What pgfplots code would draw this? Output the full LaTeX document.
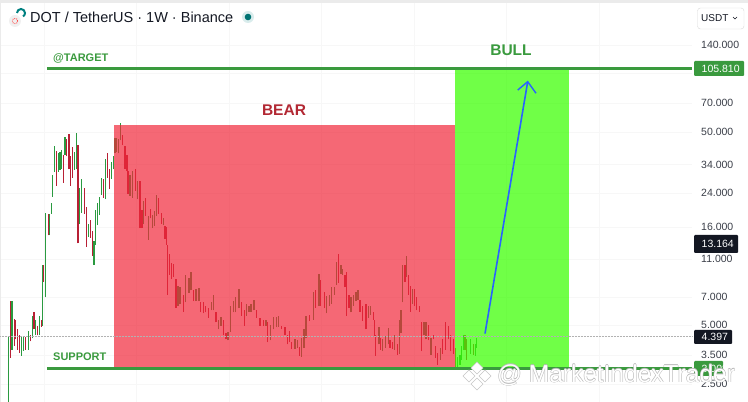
\documentclass[border=0pt]{standalone}
\usepackage{pgfplots}
\pgfplotsset{compat=1.18}
\usepackage{pgfplotstable}
\usepackage{fontspec}
\setmainfont{Liberation Sans}
\definecolor{tvgreen}{HTML}{3A9A3E}
\definecolor{candleG}{HTML}{2A9A40}
\definecolor{candleR}{HTML}{B82035}
\definecolor{bearfill}{HTML}{F1283A}
\definecolor{bullfill}{HTML}{39FF00}
\definecolor{beartxt}{HTML}{B22833}
\definecolor{tick}{HTML}{3A3E48}
\definecolor{dark}{HTML}{131722}
\definecolor{tvblue}{HTML}{2962FF}
\pgfplotstableread{
x lo hi
8.3 2.03 4.41
12 3.76 6.67
21.3 3.49 4.35
23.3 3.71 4.35
28.3 3.76 4.72
32.3 4.30 5.64
35.7 4.50 5.36
39.3 4.50 5.64
42.3 5.0 10.3
45.3 7.0 19.0
49.7 14.6 18.9
51.3 18.9 21.5
52.7 23.1 30.0
54.3 31.1 42.1
58.3 31.1 38.7
60 31.9 39.2
61.3 32.3 40.1
65 37.8 47
74.7 31.9 39.2
76.3 32.3 49.2
79.7 16.7 25.7
81.7 19.0 28.7
88.7 14.4 16.7
94 10.3 13.6
95.7 13.1 19.7
97.7 16.5 21.5
99.3 18.6 23.1
101.3 23.7 29.0
105.3 22.5 36
111.3 28.7 34.8
113.3 32 37.3
115 38.7 46.3
116.7 39.2 46.3
118.7 38.7 45.8
120.3 45.2 55.5
130 23.4 30
132.3 22.9 31.5
137.7 22.5 28
143.7 16.7 22
148.7 13.9 18.4
152.7 15.9 18.6
154.7 16.3 19.5
156.7 18.4 23.7
163.7 16.5 17.9
178 6.35 8.0
180 6.45 7.9
185.7 6.6 9.1
189 7.4 8.8
191 7.6 9.5
196 6.7 7.7
199 6.7 7.8
211.3 6.0 6.6
213.3 6.0 7.2
218.7 4.78 5.36
221 5.0 5.56
228 4.2 4.65
230.3 4.65 6.3
233.3 5.85 6.7
235.7 5.85 7.0
239 6.15 7.7
246.7 5.64 6.5
249 5.9 6.35
251 5.9 6.45
254 6.0 6.8
266 5.0 5.36
270.7 4.2 5.05
273.3 4.78 5.56
276.7 4.9 5.56
278.3 4.95 5.64
295 3.8 4.25
297.3 3.85 4.2
301.3 3.45 4.3
304 3.85 4.78
306 4.3 5.64
313.3 5.36 7.5
319 6.3 9.25
326.7 5.78 7.1
329.3 6.35 7.2
331.7 6.45 7.9
334.3 7.2 7.9
336.7 8.1 10.7
341 9.25 10.3
342.7 9.15 9.8
351 5.85 7
353.3 6.35 7.2
356 6.7 7.5
358 6.8 7.6
368.3 5.5 6.3
370.7 5.7 6.35
379 4.0 4.95
382.7 3.7 4.25
385.7 3.85 4.4
388.3 4.0 4.85
394.7 3.76 4.45
399.3 3.58 5.36
401 4.6 6.0
402.7 6.6 10.3
406.7 8.9 11.5
412.7 6.45 7.7
424 4.45 5.25
426 4.25 5.2
431 3.55 4.3
440.7 3.33 3.85
457.7 3.07 3.45
460 3.15 3.55
461.7 3.33 3.95
463.3 3.76 4.5
470.7 3.58 4.25
475.3 3.49 4.0
476.7 3.85 4.3
}\upbars
\pgfplotstableread{
x lo hi
10.7 3.41 6.67
14.3 3.95 5.43
15.5 4.25 5.36
17.3 3.76 4.78
19.3 3.62 4.5
25.3 3.76 4.35
30.3 4.15 4.5
34 4.78 5.9
37.3 4.45 5
41.3 4.95 5.36
43.7 8.4 10.3
48.3 14.6 18.9
56.3 26.3 39.6
63.3 27.3 37.8
66.7 37.3 45.8
69 32 48.6
70.7 26.3 37.3
72.7 29 41.6
78 13.3 42.6
84.7 18.9 25.7
86.7 12.8 20.5
90.3 14.2 17.5
92.3 11.5 15.3
103.3 22.9 28.7
107.3 29 38.7
109.3 25.2 32.3
122.3 42.6 48
125 32.3 42.1
127 31.5 37.8
128 24 31.5
135.7 24.8 32.3
140 15.9 28
142 15.9 19.7
145.7 18.4 22.9
150.7 17.9 20
158.7 18.9 22.9
161.3 16.7 19
165 14 16.3
166.7 13.1 16.1
167.7 7.2 13.1
169.3 9.15 11.7
171.7 8.7 10.5
173.7 8.9 10.4
176 6.2 8.7
183.7 5.9 7.2
193.3 6.7 7.6
200.7 5.85 6.6
203.3 5.78 6.6
205.5 5.85 6.35
208.3 5.5 6.2
216 5.2 5.85
223.3 4.45 5.36
226 4.25 4.6
241.7 5.64 6.6
244.3 5 6
256.7 5.5 6.05
260 5 5.5
263.3 5 5.36
267.7 4.1 5.25
281.7 4.78 5
285 4.5 4.9
287.3 4 4.45
289.3 4.1 4.72
291.7 3.8 4.1
299.3 3.49 3.9
309.3 5.3 5.7
315.3 6.2 7.6
320.7 6.35 8.6
324.3 6.15 7.5
338.7 8.3 11.7
345 7.9 9.15
346.7 5.64 9.5
349 6.2 7.2
360 5.9 6.8
362.7 5.3 6.3
366 4.78 6.5
373.3 5.36 5.85
374.3 4.4 5.36
375.7 3.49 4.5
380.7 3.76 4.3
390 3.85 4.2
392.3 3.8 4.1
397.7 3.55 4
405 8.4 10.3
408.3 7.2 9.15
410.3 5.9 8
414.3 6.3 7.7
416.7 6 7
419.3 5.9 6.3
421.7 3.7 5.25
428.3 4.2 5.05
433.3 4.25 4.5
435.7 3.41 3.95
437.7 3.15 3.62
442.7 3.58 4.25
445.3 3.76 5.25
448.3 4.25 5
450.7 3.7 4.5
453.3 3.58 4.25
455.7 2.96 3.85
465 3.76 4.5
466.7 3.33 4.25
473.3 3.55 4
}\downbars
\newcommand{\fs}[1]{\fontsize{#1}{#1}\selectfont}
\begin{document}
\begin{tikzpicture}[x=1pt,y=1pt]
\useasboundingbox (0,0) rectangle (748,402);
\begin{axis}[at={(0,0)},anchor=south west,width=748pt,height=402pt,scale only axis,
  xmin=0,xmax=748,ymode=log,ymin=2.02,ymax=239,
  axis line style={draw=none},tick style={draw=none},
  xtick={44,136,229,321,414,506,599},xticklabels={},
  ytick={2.5,3.5,5,7,11,16,24,34,50,70,100,140},yticklabels={},
  log basis y=10,
  grid=major,grid style={draw=black!3,line width=0.5pt},
  clip=true]
\addplot[forget plot,draw=none,mark=none,
  error bars/.cd,y dir=plus,y explicit,error mark=none,
  error bar style={draw=candleG,line width=1.5pt}]
  table[x=x,y=lo,y error expr=\thisrow{hi}-\thisrow{lo}]{\upbars};
\addplot[forget plot,draw=none,mark=none,
  error bars/.cd,y dir=plus,y explicit,error mark=none,
  error bar style={draw=candleR,line width=1.5pt}]
  table[x=x,y=lo,y error expr=\thisrow{hi}-\thisrow{lo}]{\downbars};
\addplot[fill=bearfill,fill opacity=0.7,draw=none] coordinates {(113.5,3.008)(455,3.008)(455,54)(113.5,54)} -- cycle;
\addplot[fill=bullfill,fill opacity=0.72,draw=none] coordinates {(455,3.008)(569,3.008)(569,107.5)(455,107.5)} -- cycle;
\addplot[fill=white,draw=none] coordinates {(692,2.02)(748,2.02)(748,239)(692,239)} -- cycle;
\addplot[fill=black!8,draw=none] coordinates {(0,2.02)(1,2.02)(1,239)(0,239)} -- cycle;
\addplot[fill=black!8,draw=none] coordinates {(0,230)(748,230)(748,239)(0,239)} -- cycle;
\addplot[densely dotted,black!30,line width=0.5pt] coordinates {(0,4.397)(692,4.397)};
\addplot[tvgreen,line width=2.8pt] coordinates {(47,105.81)(692,105.81)};
\addplot[tvgreen,line width=2.8pt] coordinates {(47,3.008)(692,3.008)};
\addplot[tvblue,line width=1.6pt] coordinates {(485,4.55)(527.7,90.6)};
\addplot[tvblue,line width=1.4pt] coordinates {(517.7,82)(527.7,90.6)(536,79)};
\end{axis}
% title
\node[anchor=west,text=dark,inner sep=0] at (30,385) {\fs{14.5}DOT / TetherUS · 1W · Binance};
\fill[teal!15] (248,385) circle (6);
\fill[teal!90!black] (248,385) circle (3.3);
\fill[black!6] (15,381) circle (6);
\draw[red!70,line width=0.9pt,densely dotted] (15,381) circle (2.6);
\draw[teal,line width=2pt] (17,389) arc (180:-60:4);
% button
\draw[black!15,rounded corners=3,fill=white] (697.5,373) rectangle (744,394);
\node[anchor=west,text=dark,inner sep=0] at (701,384) {\fs{10}USDT};
\draw[dark,line width=0.6pt] (733,385) -- (735,383) -- (737,385);
% text
\node[text=tvgreen,inner sep=0,anchor=west] at (53,344) {\fs{11}\bfseries @TARGET};
\node[text=tvgreen,inner sep=0,anchor=west] at (53,45) {\fs{11}\bfseries SUPPORT};
\node[text=beartxt,inner sep=0] at (284,292) {\fs{15.5}\bfseries BEAR};
\node[text=tvgreen,inner sep=0] at (511,352) {\fs{15.5}\bfseries BULL};
% price scale
\foreach \l/\y in {140.000/45,70.000/103,50.000/132,34.000/164.5,24.000/193,16.000/227,11.000/259,7.000/297,5.000/325,3.500/355,2.500/384}
  {\node[anchor=west,inner sep=0,text=tick] at (701,402-\y) {\fs{10.5}\l};}
\fill[tvgreen,rounded corners=1] (694,326) rectangle (744,341);
\node[anchor=west,inner sep=0,text=white] at (701.5,333.5) {\fs{10.5}105.810};
\fill[dark,rounded corners=1] (694,149) rectangle (738,167);
\node[anchor=west,inner sep=0,text=white] at (701.5,158) {\fs{10.5}13.164};
\fill[dark,rounded corners=1] (694,58) rectangle (732,72);
\node[anchor=west,inner sep=0,text=white] at (701.5,65) {\fs{10.5}4.397};
\fill[tvgreen,rounded corners=1] (694,26) rectangle (723,41);
\node[anchor=west,inner sep=0,text=white] at (701.5,33.5) {\fs{10.5}3.008};
% watermark
\foreach \dx/\dy in {-0.5/0,0.5/0,0/0.5,0/-0.5}
  {\node[anchor=west,inner sep=0,text=black!28] at (497+\dx,27+\dy) {\fs{24.5}@ MarketIndexTrader};}
\node[anchor=west,inner sep=0,text=white] at (497,27) {\fs{24.5}@ MarketIndexTrader};
\foreach \cx/\cy in {477/34,469/26,485/26,477/18}
  {\draw[white,line width=1.6pt,fill=white] (\cx-5,\cy)--(\cx,\cy+5)--(\cx+5,\cy)--(\cx,\cy-5)--cycle;
   \draw[black!22,line width=0.5pt] (\cx-6,\cy)--(\cx,\cy+6)--(\cx+6,\cy)--(\cx,\cy-6)--cycle;}
\end{tikzpicture}
\end{document}
